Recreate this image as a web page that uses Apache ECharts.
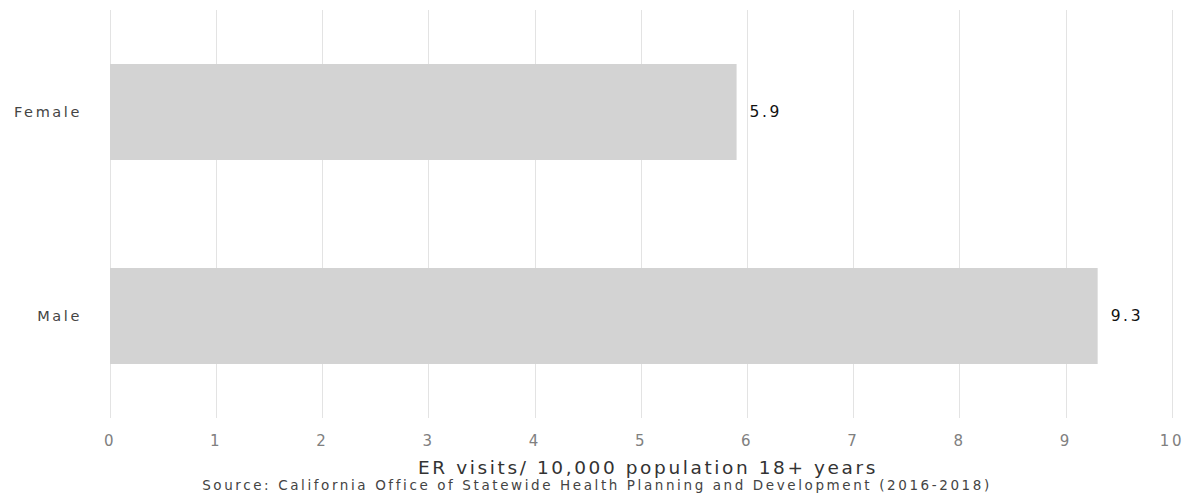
<!DOCTYPE html>
<html><head><meta charset="utf-8">
<script src="https://cdn.jsdelivr.net/npm/echarts@6/dist/echarts.min.js"></script>
<style>html,body{margin:0;padding:0;background:#fff}#c{width:1193px;height:495px}
#c text{letter-spacing:2.6px}</style>
</head><body><div id="c"></div>
<script>
var categories = ["Female", "Male"];
var values = [5.9, 9.3];
var xTicks = [0,1,2,3,4,5,6,7,8,9,10];
var axisTitle = "ER visits/ 10,000 population 18+ years";
var sourceText = "Source: California Office of Statewide Health Planning and Development (2016-2018)";

var chart = echarts.init(document.getElementById('c'), null, {renderer: 'svg'});
chart.setOption({
  animation: false,
  textStyle: {fontFamily: 'DejaVu Sans'},
  grid: {left: 110, right: 21, top: 10, height: 408},
  title: [{
    text: axisTitle, left: 643, top: 453, textAlign: 'center',
    textStyle: {fontSize: 18.5, fontWeight: 'normal', color: '#333', fontFamily: 'DejaVu Sans'}
  },{
    text: sourceText, left: 592, top: 473, textAlign: 'center',
    textStyle: {fontSize: 13.5, fontWeight: 'normal', color: '#444', fontFamily: 'DejaVu Sans'}
  }],
  xAxis: {
    type: 'value', min: 0, max: 10, interval: 1,
    axisLine: {show: false}, axisTick: {show: false},
    splitLine: {lineStyle: {color: '#e3e3e3', width: 1}},
    axisLabel: {color: '#808080', fontSize: 15, margin: 15,
      formatter: function(v){ return xTicks.indexOf(v) >= 0 ? String(v) : ''; }}
  },
  yAxis: {
    type: 'category', data: categories, inverse: true,
    axisLine: {show: false}, axisTick: {show: false},
    axisLabel: {color: '#444', fontSize: 14.5, margin: 28}
  },
  series: [{
    type: 'bar', data: values, barWidth: '47%',
    itemStyle: {color: '#d3d3d3'},
    label: {show: true, position: 'right', distance: 13, color: '#111', fontSize: 15.5,
      formatter: function(p){ return p.value.toFixed(1); }}
  }]
});
</script></body></html>
